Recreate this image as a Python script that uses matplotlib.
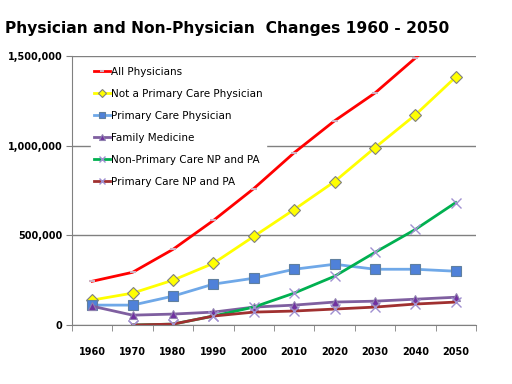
import numpy as np
import matplotlib
matplotlib.use("Agg")
import matplotlib.pyplot as plt
from matplotlib.ticker import FuncFormatter, FixedLocator

years = ["1960", "1970", "1980", "1990", "2000", "2010", "2020", "2030", "2040", "2050"]

all_physicians = [244000, 294000, 422000, 583000, 761000, 961000, 1139000, 1294000, 1489000, 1700000]
not_primary = [139000, 178000, 250000, 344000, 494000, 644000, 800000, 989000, 1172000, 1383000]
primary_care = [111000, 111000, 161000, 228000, 261000, 311000, 339000, 311000, 311000, 300000]
family_med = [105000, 55000, 61000, 72000, 100000, 111000, 128000, 133000, 144000, 155000]
non_primary_np = [None, 0, 5000, 50000, 100000, 178000, 272000, 405000, 533000, 683000]
primary_np = [None, 0, 5000, 50000, 72000, 78000, 89000, 100000, 117000, 128000]

x = np.arange(len(years))


def series(vals):
    return np.array([np.nan if v is None else v for v in vals], dtype=float)


fig = plt.figure(figsize=(5.12, 3.84), dpi=100)
ax = fig.add_axes([0.1406, 0.1536, 0.789, 0.7004])

ax.plot(x, series(all_physicians), color="#ff0000", lw=2, marker="_", ms=4,
        mec="#d0b0c0", mew=1.5, label="All Physicians")
ax.plot(x, series(not_primary), color="#ffff00", lw=2, marker="D", ms=6,
        mfc="#ffff00", mec="#808080", mew=0.8, label="Not a Primary Care Physician")
ax.plot(x, series(primary_care), color="#6fa8e8", lw=2, marker="s", ms=7,
        mfc="#4f81d9", mec="#6080a0", mew=0.8, label="Primary Care Physician")
ax.plot(x, series(family_med), color="#7f5fa0", lw=2, marker="^", ms=6,
        mfc="#7030a0", mec="#9080b0", mew=0.8, label="Family Medicine")
ax.plot(x, series(non_primary_np), color="#00b050", lw=2, marker="x", ms=7,
        mec="#a090d0", mew=1, label="Non-Primary Care NP and PA")
ax.plot(x, series(primary_np), color="#a03030", lw=2, marker="x", ms=7,
        mec="#a090d0", mew=1, label="Primary Care NP and PA")

ax.set_xlim(-0.5, 9.5)
ax.set_ylim(0, 1500000)
ax.set_yticks([0, 500000, 1000000, 1500000])
ax.yaxis.set_major_formatter(FuncFormatter(lambda v, p: f"{int(v):,}"))
ax.yaxis.grid(True, color="#808080", lw=1)
ax.set_axisbelow(True)

ax.set_xticks(x)
ax.set_xticklabels(years)
ax.xaxis.set_minor_locator(FixedLocator(np.arange(-0.5, 10, 1)))
ax.tick_params(axis="x", which="major", length=0, pad=16)
ax.tick_params(axis="x", which="minor", length=4, color="#808080")
ax.tick_params(axis="y", length=4, color="#808080", pad=3)
for lab in ax.get_xticklabels() + ax.get_yticklabels():
    lab.set_fontweight("bold")
    lab.set_fontsize(7)

for side in ["top", "right"]:
    ax.spines[side].set_visible(False)
for side in ["left", "bottom"]:
    ax.spines[side].set_color("#808080")

leg = ax.legend(loc="upper left", bbox_to_anchor=(0.035, 0.99), frameon=True,
                fontsize=7.5, handlelength=1.5, handletextpad=0.1,
                labelspacing=1.15, borderpad=0.3, markerscale=0.7)
leg.get_frame().set_edgecolor("white")
leg.get_frame().set_facecolor("white")
leg.get_frame().set_alpha(1)
leg.set_zorder(1.5)

fig.text(0.01, 0.927, "Physician and Non-Physician  Changes 1960 - 2050",
         fontsize=11.2, fontweight="bold", ha="left", va="center")

fig.savefig("out.png", dpi=100)
